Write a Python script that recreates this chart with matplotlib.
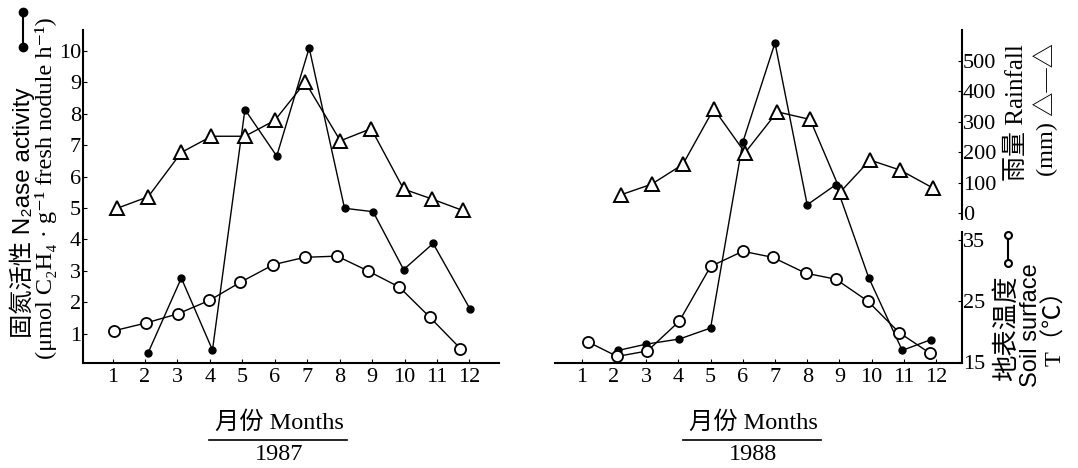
import matplotlib.pyplot as plt
from matplotlib.lines import Line2D

# ---- data ----
month_ticks = list(range(1, 13))

# 1987
n2ase87_x = [2.10, 3.12, 4.08, 5.08, 6.06, 7.06, 8.15, 9.03, 9.97, 10.88, 12.02]
n2ase87 = [0.40, 2.77, 0.48, 8.13, 6.65, 10.09, 4.99, 4.88, 3.04, 3.87, 1.78]
rain87_x = [1.14, 2.10, 3.12, 4.05, 5.08, 6.00, 6.94, 8.02, 8.97, 9.97, 10.83, 11.79]
rain87 = [16, 54, 199, 252, 252, 304, 429, 237, 277, 79, 47, 9]
temp87_x = [1.03, 2.03, 3.01, 3.98, 4.94, 5.96, 6.92, 7.92, 8.86, 9.84, 10.77, 11.72]
temp87 = [20.1, 21.4, 22.9, 25.1, 28.1, 31.0, 32.2, 32.4, 30.0, 27.3, 22.4, 17.2]

# 1988
n2ase88_x = [2.14, 3.01, 4.03, 5.00, 6.00, 7.00, 8.00, 8.89, 9.91, 10.95, 11.84]
n2ase88 = [0.47, 0.67, 0.83, 1.18, 7.09, 10.25, 5.10, 5.74, 2.78, 0.47, 0.81]
rain88_x = [2.21, 3.17, 4.14, 5.10, 6.07, 7.07, 8.09, 9.04, 9.95, 10.89, 11.91]
rain88 = [60, 95, 160, 342, 198, 332, 307, 71, 174, 141, 82]
temp88_x = [1.19, 2.10, 3.04, 4.03, 5.00, 6.00, 6.93, 7.95, 8.89, 9.88, 10.86, 11.82]
temp88 = [18.3, 15.9, 16.8, 21.7, 30.7, 33.2, 32.2, 29.6, 28.6, 25.0, 19.8, 16.4]

n2ase_ticks = list(range(1, 11))
rain_ticks = [0, 100, 200, 300, 400, 500]
temp_ticks = [15, 25, 35]

serif = ['Liberation Serif', 'Noto Sans CJK SC', 'DejaVu Sans']
sans = ['Liberation Sans', 'Noto Sans CJK SC', 'DejaVu Sans']

W, H = 1078, 468
fig = plt.figure(figsize=(W / 100, H / 100), dpi=100)


def px(x, y):
    return x / W, 1 - y / H


def panel(left, right, xlim, n_x, n_y, r_x, r_y, t_x, t_y, show_left):
    top, bottom = 30, 362.5
    ax = fig.add_axes([left / W, 1 - bottom / H, (right - left) / W, (bottom - top) / H])
    axr = ax.twinx()
    axt = ax.twinx()
    ax.set_xlim(*xlim)
    ax.set_ylim(0.084, 10.66)
    axr.set_ylim(-489, 600)
    axt.set_ylim(14.9, 69.6)

    ax.plot(n_x, n_y, '-o', color='black', lw=1.0, ms=5)
    axr.plot(r_x, r_y, '-^', color='black', lw=1.0, ms=10, mfc='white', mew=1.4)
    axt.plot(t_x, t_y, '-o', color='black', lw=1.0, ms=8, mfc='white', mew=1.3)

    for a in (ax, axr, axt):
        a.spines['top'].set_visible(False)
        a.patch.set_visible(False)
    ax.spines['right'].set_visible(False)
    for a in (axr, axt):
        a.spines['left'].set_visible(False)
        a.spines['bottom'].set_visible(False)

    ax.spines['bottom'].set_linewidth(1.5)
    ax.set_xticks(month_ticks)
    ax.set_xticklabels([str(m) for m in month_ticks], family=serif, fontsize=16)
    ax.tick_params(axis='x', direction='in', length=3, pad=4)

    if show_left:
        ax.spines['left'].set_linewidth(1.5)
        ax.set_yticks(n2ase_ticks)
        ax.set_yticklabels([str(v) for v in n2ase_ticks], family=serif, fontsize=16)
        ax.tick_params(axis='y', direction='in', length=3, pad=1.5)
        for a in (axr, axt):
            a.spines['right'].set_visible(False)
            a.set_yticks([])
    else:
        ax.spines['left'].set_visible(False)
        ax.set_yticks([])
        axr.spines['right'].set_bounds(-20, 600)
        axt.spines['right'].set_bounds(14.9, 36.3)
        for a, tk in ((axr, rain_ticks), (axt, temp_ticks)):
            a.spines['right'].set_linewidth(1.5)
            a.set_yticks(tk)
            a.set_yticklabels([str(v) for v in tk], family=serif, fontsize=16)
            a.tick_params(axis='y', direction='in', length=3, pad=1)
    return ax


panel(83, 499, (0.09, 12.91), n2ase87_x, n2ase87, rain87_x, rain87, temp87_x, temp87, True)
panel(555, 961.5, (0.17, 12.79), n2ase88_x, n2ase88, rain88_x, rain88, temp88_x, temp88, False)

# left axis label + symbol
fig.text(*px(22, 213), '固氮活性 N₂ase activity', rotation=90, ha='center', va='center',
         family=sans, fontsize=17.5)
fig.text(*px(46, 188), '(μmol C₂H₄ · g⁻¹ fresh nodule h⁻¹)', rotation=90, ha='center',
         va='center', family=serif, fontsize=17.5)
sx, sy0 = px(23, 12)
_, sy1 = px(23, 47)
fig.add_artist(Line2D([sx, sx], [sy0, sy1], transform=fig.transFigure, color='black',
                      lw=1.5, marker='o', ms=6))

# right axis labels
fig.text(*px(1017, 113), '雨量 Rainfall', rotation=90, ha='center', va='center',
         family=serif, fontsize=18)
fig.text(*px(1046, 110), '(mm) △—△', rotation=90, ha='center', va='center',
         family=serif, fontsize=17.5)
fig.text(*px(1007, 328), '地表温度', rotation=90, ha='center', va='center',
         family=serif, fontsize=19)
tx, ty0 = px(1008, 235)
_, ty1 = px(1008, 263)
fig.add_artist(Line2D([tx, tx], [ty0, ty1], transform=fig.transFigure, color='black',
                      lw=1.5, marker='o', ms=5, mfc='white', mew=1.5))
fig.text(*px(1031, 325), 'Soil surface', rotation=90, ha='center', va='center',
         family=sans, fontsize=17)
fig.text(*px(1055, 322), 'T（℃）', rotation=90, ha='center', va='center',
         family=serif, fontsize=17.5)

# month captions
for cx, year in ((279, '1987'), (753, '1988')):
    fig.text(*px(cx, 423), '月份 Months', ha='center', va='center', family=serif, fontsize=17.5)
    x0, yl = px(cx - 70, 440)
    x1, _ = px(cx + 68, 440)
    fig.add_artist(Line2D([x0, x1], [yl, yl], transform=fig.transFigure, color='black', lw=1.2))
    fig.text(*px(cx, 454), year, ha='center', va='center', family=serif, fontsize=17.5)

fig.savefig('out.png', dpi=100)
